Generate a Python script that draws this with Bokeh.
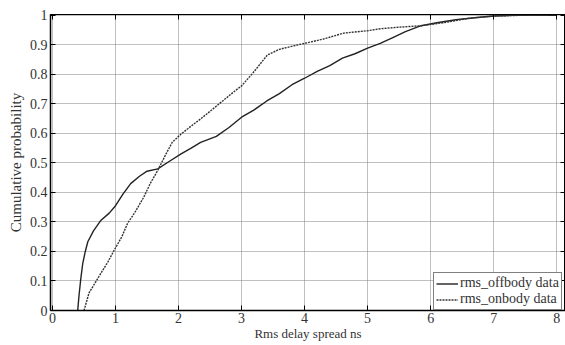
from bokeh.plotting import figure
from bokeh.models import LinearAxis, FixedTicker, Legend, LegendItem, Range1d
from bokeh.embed import file_html
from bokeh.resources import INLINE

# --- data ---
off_x = [0.40, 0.42, 0.45, 0.48, 0.52, 0.56, 0.65, 0.77, 0.90, 1.00, 1.12, 1.24, 1.38,
         1.50, 1.67, 1.85, 2.04, 2.20, 2.35, 2.60, 2.80, 3.00, 3.20, 3.40, 3.60, 3.80,
         4.00, 4.20, 4.40, 4.60, 4.80, 5.00, 5.20, 5.40, 5.60, 5.85, 6.10, 6.40, 6.70,
         7.00, 7.30, 8.00]
off_y = [0.000, 0.050, 0.110, 0.160, 0.200, 0.233, 0.270, 0.306, 0.330, 0.355, 0.395,
         0.430, 0.455, 0.472, 0.480, 0.505, 0.531, 0.550, 0.570, 0.590, 0.620, 0.655,
         0.680, 0.710, 0.735, 0.765, 0.787, 0.810, 0.830, 0.855, 0.870, 0.889, 0.905,
         0.925, 0.945, 0.965, 0.975, 0.985, 0.992, 0.998, 1.000, 1.000]

on_x = [0.50, 0.58, 0.68, 0.77, 0.88, 0.98, 1.10, 1.19, 1.30, 1.45, 1.55, 1.67, 1.80,
        1.90, 2.04, 2.20, 2.35, 2.50, 2.70, 2.90, 3.00, 3.20, 3.41, 3.60, 3.89, 4.00,
        4.30, 4.62, 5.00, 5.21, 5.50, 5.85, 6.20, 6.60, 7.00, 7.40, 7.86]
on_y = [0.000, 0.060, 0.095, 0.127, 0.165, 0.205, 0.250, 0.295, 0.330, 0.385, 0.430,
        0.475, 0.530, 0.570, 0.598, 0.625, 0.649, 0.675, 0.710, 0.745, 0.761, 0.810,
        0.866, 0.885, 0.900, 0.905, 0.920, 0.940, 0.948, 0.955, 0.960, 0.965, 0.975,
        0.990, 0.998, 1.000, 1.000]

x_ticks = [0, 1, 2, 3, 4, 5, 6, 7, 8]
y_ticks = [0, 0.1, 0.2, 0.3, 0.4, 0.5, 0.6, 0.7, 0.8, 0.9, 1]
y_labels = ["0", "0.1", "0.2", "0.3", "0.4", "0.5", "0.6", "0.7", "0.8", "0.9", "1"]

series_names = ["rms_offbody data", "rms_onbody data"]

FONT = "Liberation Serif"

p = figure(width=565, height=345, output_backend="svg", toolbar_location=None,
           x_range=Range1d(-0.032, 8.14), y_range=Range1d(0, 1.003),
           min_border_left=50, min_border_right=0, min_border_top=14,
           min_border_bottom=35)

p.outline_line_color = "black"
p.outline_line_width = 1

# grid
for g in (p.xgrid, p.ygrid):
    g.grid_line_color = "#808080"
    g.grid_line_dash = "1 1"
    g.grid_line_width = 1
p.xgrid.ticker = FixedTicker(ticks=x_ticks)
p.ygrid.ticker = FixedTicker(ticks=y_ticks)

# bottom / left axes
for ax in (p.xaxis[0], p.yaxis[0]):
    ax.major_tick_in = 5
    ax.major_tick_out = 0
    ax.minor_tick_line_color = None
    ax.axis_line_color = "black"
    ax.axis_line_width = 1.5
    ax.major_tick_line_color = "black"
    ax.major_label_text_font = FONT
    ax.major_label_text_font_size = "14px"
    ax.major_label_text_color = "#333333"
    ax.axis_label_text_font = FONT
    ax.axis_label_text_font_style = "normal"
    ax.axis_label_text_color = "#333333"

p.xaxis[0].ticker = FixedTicker(ticks=x_ticks)
p.yaxis[0].ticker = FixedTicker(ticks=y_ticks)
p.yaxis[0].major_label_overrides = {t: l for t, l in zip(y_ticks, y_labels)}
p.xaxis[0].axis_label = "Rms delay spread ns"
p.yaxis[0].axis_label = "Cumulative probability"
p.xaxis[0].axis_label_text_font_size = "13px"
p.yaxis[0].axis_label_text_font_size = "15px"
p.xaxis[0].major_label_standoff = 2
p.xaxis[0].axis_label_standoff = 0
p.yaxis[0].major_label_standoff = 3
p.yaxis[0].axis_label_standoff = 3

# top / right axes (ticks only, labels not drawn)
top = LinearAxis(ticker=FixedTicker(ticks=x_ticks))
right = LinearAxis(ticker=FixedTicker(ticks=y_ticks))
for ax in (top, right):
    ax.major_tick_in = 5
    ax.major_tick_out = 0
    ax.minor_tick_line_color = None
    ax.axis_line_color = "black"
    ax.major_tick_line_color = "black"
    ax.major_label_text_color = None
    ax.major_label_text_font_size = "1px"
    ax.major_label_standoff = 0
p.add_layout(top, "above")
p.add_layout(right, "right")

r_off = p.line(off_x, off_y, line_color="#222222", line_width=1.4)
r_on = p.line(on_x, on_y, line_color="#333333", line_width=1.4, line_dash="2 1")

legend = Legend(items=[LegendItem(label=series_names[0], renderers=[r_off]),
                       LegendItem(label=series_names[1], renderers=[r_on])],
                location=(383, 0))
legend.margin = 0
legend.padding = 2
legend.spacing = 0
legend.glyph_width = 22
legend.glyph_height = 15
legend.label_height = 15
legend.label_standoff = 2
legend.label_text_font = FONT
legend.label_text_font_size = "14px"
legend.label_text_color = "#333333"
legend.border_line_color = "black"
legend.border_line_width = 1
legend.background_fill_alpha = 1
p.add_layout(legend, "center")

open("out.html", "w").write(file_html(p, INLINE))
